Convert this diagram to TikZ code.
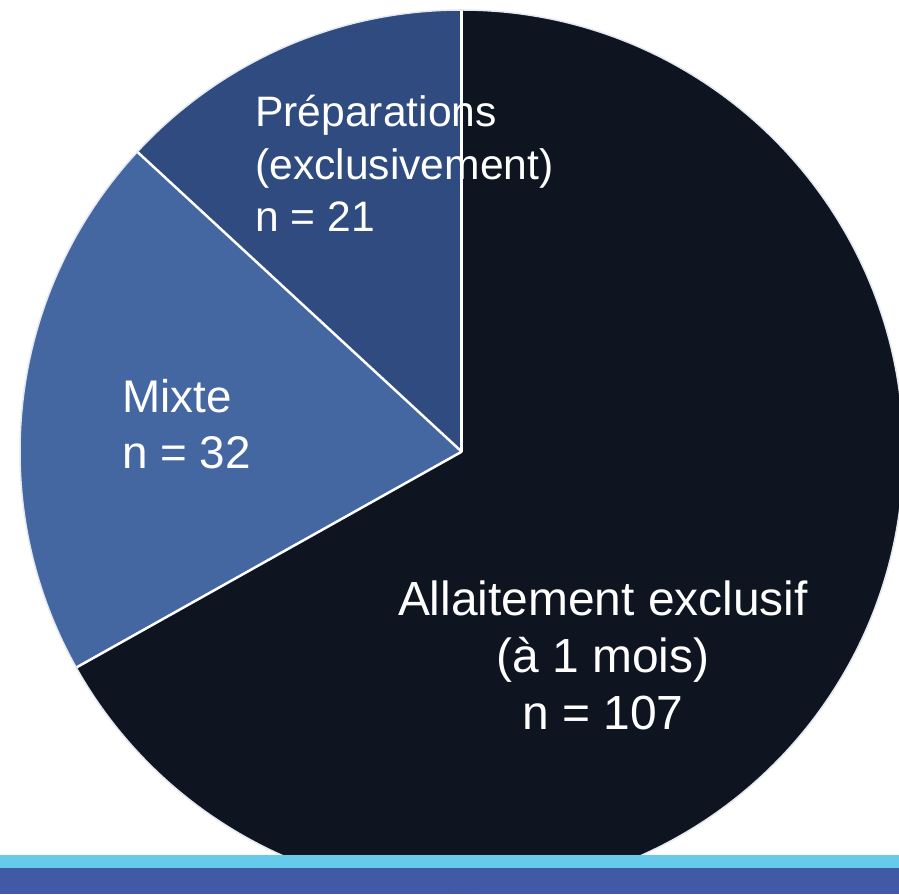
\documentclass[tikz,border=0pt]{standalone}
\usepackage{fontspec}
\setmainfont{Liberation Sans}
\usetikzlibrary{calc}
\definecolor{prepcol}{HTML}{2F4B80}
\definecolor{mixcol}{HTML}{4467A2}
\definecolor{allaitcol}{HTML}{0E1521}
\definecolor{barlight}{HTML}{66CBEA}
\definecolor{bardark}{HTML}{405AA7}
\tikzset{
  slicelabel/.style={text=white, inner sep=0pt, align=left},
  sep/.style={draw=white, line width=2.5pt},
}
\begin{document}
\begin{tikzpicture}[x=1pt,y=1pt]
  \useasboundingbox (0,0) rectangle (899,894);
  \clip (0,0) rectangle (899,894);
  % pie centre and radius
  \coordinate (c) at (461.7,442.3);
  \def\R{441.7}
  % slices (107 / 32 / 21 of 160)
  \fill[allaitcol] (c) -- ++(90:\R) arc[start angle=90, end angle=-150.75, radius=\R] -- cycle;
  \fill[mixcol] (c) -- ++(209.25:\R) arc[start angle=209.25, end angle=137.25, radius=\R] -- cycle;
  \fill[prepcol] (c) -- ++(137.25:\R) arc[start angle=137.25, end angle=90, radius=\R] -- cycle;
  % slice borders
  \coordinate (b1) at ($(c)+(90:\R)$);
  \coordinate (b2) at ($(c)+(209.25:\R)$);
  \coordinate (b3) at ($(c)+(137.25:\R)$);
  \draw[sep] (c) -- (b1);
  \draw[sep] (c) -- (b2);
  \draw[sep] (c) -- (b3);
  \draw[draw=white!85!mixcol, line width=1.5pt] (c) circle[radius=\R];
  % labels (base anchor sits on the last line)
  \node[slicelabel, anchor=base west, font=\fontsize{42.6}{52.5}\selectfont] (prep) at (255,662)
    {Préparations\\(exclusivement)\\n = 21};
  \node[slicelabel, anchor=base west, font=\fontsize{45.8}{56}\selectfont] (mix) at (122,425)
    {Mixte\\n = 32};
  \node[slicelabel, align=center, anchor=base, font=\fontsize{47.9}{57}\selectfont] (allait) at (603,164)
    {Allaitement exclusif\\(à 1 mois)\\n = 107};
  % bottom band
  \fill[barlight] (0,26) rectangle (899,39);
  \fill[bardark] (0,0) rectangle (899,26);
\end{tikzpicture}
\end{document}
